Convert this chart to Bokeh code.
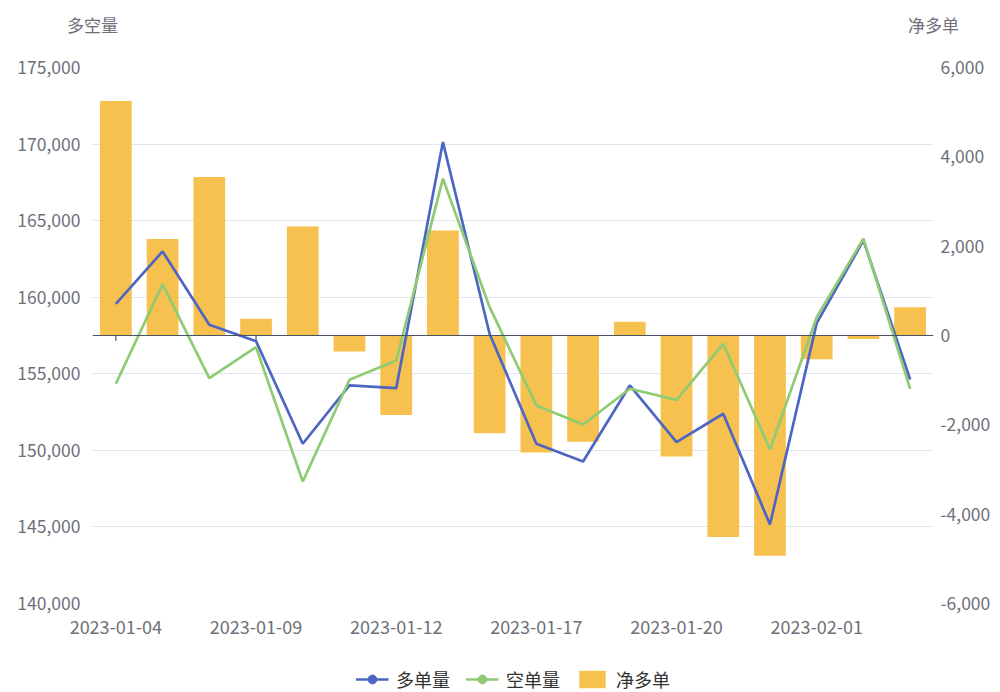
from bokeh.plotting import figure
from bokeh.layouts import column
from bokeh.models import (Range1d, LinearAxis, FixedTicker, NumeralTickFormatter, Span,
                          Legend, LegendItem, ColumnDataSource)
from bokeh.embed import file_html
from bokeh.resources import INLINE

dates = ["2023-01-04", "2023-01-05", "2023-01-06", "2023-01-09", "2023-01-10", "2023-01-11",
         "2023-01-12", "2023-01-13", "2023-01-16", "2023-01-17", "2023-01-18", "2023-01-19",
         "2023-01-20", "2023-01-30", "2023-01-31", "2023-02-01", "2023-02-02", "2023-02-03"]
long_vol = [159570, 162990, 158200, 157130, 150430, 154240, 154060, 170130, 157600,
            150430, 149270, 154240, 150540, 152390, 145160, 158310, 163710, 154630]
short_vol = [154350, 160840, 154720, 156740, 147970, 154610, 155870, 167740, 159350,
             152930, 151690, 154020, 153300, 156960, 150060, 158700, 163820, 154020]
net_long = [5250, 2160, 3550, 375, 2440, -360, -1780, 2350, -2190,
            -2620, -2380, 310, -2710, -4510, -4930, -530, -80, 630]
left_ticks = [140000, 145000, 150000, 155000, 160000, 165000, 170000, 175000]
right_ticks = [-6000, -4000, -2000, 0, 2000, 4000, 6000]
label_idx = [0, 3, 6, 9, 12, 15]
series_names = ["多单量", "空单量", "净多单"]
axis_names = ["多空量", "净多单"]

n = len(dates)
idx = list(range(n))
src = ColumnDataSource(dict(x=idx, date=dates, long=long_vol, short=short_vol, net=net_long))

FONT = "Noto Sans CJK SC"
GREY = "#6e7079"
AXIS_DARK = "#4a5366"
BLUE = "#4d66c3"
GREEN = "#8fcb72"
YELLOW = "#f7c14f"
TICK_LEN = 115  # length of the small category ticks, in net-axis units (~5px)


def plain(axis, size, standoff, tick_out=0):
    axis.axis_line_color = None
    axis.major_tick_line_color = None
    axis.minor_tick_line_color = None
    axis.major_tick_out = tick_out
    axis.major_label_text_color = GREY
    axis.major_label_text_font = FONT
    axis.major_label_text_font_size = size
    axis.major_label_standoff = standoff


# ---------- main chart ----------
p = figure(frame_width=841, frame_height=536, output_backend="svg", toolbar_location=None,
           x_range=Range1d(-0.5, n - 0.5), y_range=Range1d(140000, 175000),
           min_border_left=92, min_border_right=67, min_border_top=67, min_border_bottom=40)
p.extra_y_ranges = {"net": Range1d(-6000, 6000)}
p.outline_line_color = None

# bottom category axis (dates)
xa = p.below[0]
xa.ticker = FixedTicker(ticks=label_idx)
xa.major_label_overrides = {i: dates[i] for i in label_idx}
plain(xa, "18px", 10, tick_out=6)

# left value axis
ya = p.left[0]
ya.ticker = FixedTicker(ticks=left_ticks)
ya.formatter = NumeralTickFormatter(format="0,0")
plain(ya, "17.5px", 12)

# right value axis
ra = LinearAxis(y_range_name="net", ticker=FixedTicker(ticks=right_ticks),
                formatter=NumeralTickFormatter(format="0,0"))
plain(ra, "17.5px", 7)
p.add_layout(ra, "right")

# axis names shown above the two value axes
na = LinearAxis(ticker=FixedTicker(ticks=[-0.5, n - 0.5]),
                major_label_overrides={-0.5: axis_names[0], n - 0.5: axis_names[1]})
plain(na, "17px", 31)
p.add_layout(na, "above")

p.xgrid.grid_line_color = None
p.ygrid.ticker = FixedTicker(ticks=left_ticks)
p.ygrid.grid_line_color = "#e0e6f1"

# small category ticks hanging from the zero line (hidden behind negative bars)
tick_src = ColumnDataSource(dict(x=label_idx, y0=[0] * len(label_idx),
                                 y1=[-TICK_LEN] * len(label_idx)))
p.segment(x0="x", x1="x", y0="y0", y1="y1", source=tick_src, y_range_name="net",
          line_color=AXIS_DARK, line_width=1.2)

p.vbar(x="x", top="net", bottom=0, width=0.68, source=src, y_range_name="net",
       fill_color=YELLOW, line_color=None)
p.add_layout(Span(location=0, dimension="width", y_range_name="net",
                  line_color=AXIS_DARK, line_width=1.2))
p.line(x="x", y="long", source=src, line_color=BLUE, line_width=2.7)
p.line(x="x", y="short", source=src, line_color=GREEN, line_width=2.7)

# ---------- bottom strip with legend ----------
bot = figure(width=1000, height=49, output_backend="svg", toolbar_location=None,
             x_range=Range1d(100, 101), y_range=Range1d(1e7, 1e7 + 1),
             x_axis_location=None, y_axis_location=None,
             min_border=0, outline_line_color=None)
bot.grid.visible = False
bl1 = bot.line(x="x", y="long", source=src, line_color=BLUE, line_width=2.7)
bs1 = bot.scatter(x="x", y="long", source=src, size=12, fill_color=BLUE, line_color=BLUE)
bl2 = bot.line(x="x", y="short", source=src, line_color=GREEN, line_width=2.7)
bs2 = bot.scatter(x="x", y="short", source=src, size=12, fill_color=GREEN, line_color=GREEN)
bb = bot.vbar(x="x", top="net", width=0.68, source=src, fill_color=YELLOW, line_color=None)

legend = Legend(items=[LegendItem(label=series_names[0], renderers=[bl1, bs1]),
                       LegendItem(label=series_names[1], renderers=[bl2, bs2]),
                       LegendItem(label=series_names[2], renderers=[bb])],
                orientation="horizontal", location="bottom_center",
                label_text_font=FONT, label_text_font_size="18px", label_text_color="#333333",
                glyph_width=33, glyph_height=22, spacing=15, label_standoff=8,
                border_line_alpha=0, background_fill_alpha=0, padding=0, margin=0)
bot.add_layout(legend, "center")

layout = column(p, bot, spacing=0)
open("out.html", "w").write(file_html(layout, INLINE))
